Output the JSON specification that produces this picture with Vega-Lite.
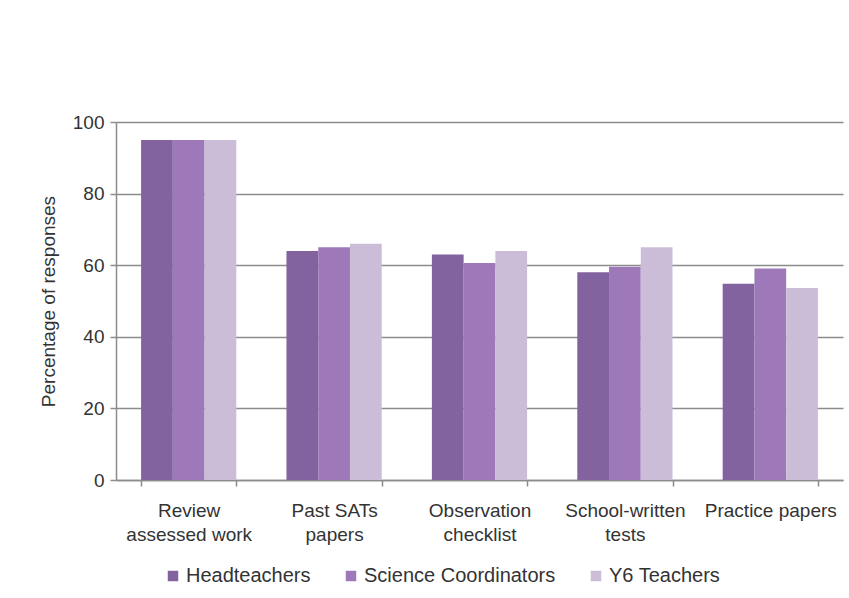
{
  "$schema": "https://vega.github.io/schema/vega-lite/v6.json",
  "width": 727,
  "height": 358,
  "autosize": {"type": "none"},
  "padding": {"left": 116, "top": 122, "right": 6, "bottom": 118},
  "background": "white",
  "config": {
    "view": {"stroke": null},
    "font": "Liberation Sans",
    "axis": {
      "labelFont": "Liberation Sans",
      "titleFont": "Liberation Sans",
      "labelColor": "#333333",
      "titleColor": "#333333",
      "labelFontSize": 19,
      "titleFontSize": 19,
      "titleFontWeight": "normal",
      "domainColor": "#8c8c8c",
      "domainWidth": 1.5,
      "tickColor": "#8c8c8c",
      "tickWidth": 1.5
    },
    "legend": {
      "labelFont": "Liberation Sans",
      "labelColor": "#333333",
      "labelFontSize": 20,
      "labelLimit": 0
    }
  },
  "data": {
    "values": [
      {"method": "Review assessed work", "group": "Headteachers", "pct": 95},
      {"method": "Review assessed work", "group": "Science Coordinators", "pct": 95},
      {"method": "Review assessed work", "group": "Y6 Teachers", "pct": 95},
      {"method": "Past SATs papers", "group": "Headteachers", "pct": 64},
      {"method": "Past SATs papers", "group": "Science Coordinators", "pct": 65},
      {"method": "Past SATs papers", "group": "Y6 Teachers", "pct": 66},
      {"method": "Observation checklist", "group": "Headteachers", "pct": 63},
      {"method": "Observation checklist", "group": "Science Coordinators", "pct": 60.6},
      {"method": "Observation checklist", "group": "Y6 Teachers", "pct": 64},
      {"method": "School-written tests", "group": "Headteachers", "pct": 58},
      {"method": "School-written tests", "group": "Science Coordinators", "pct": 59.6},
      {"method": "School-written tests", "group": "Y6 Teachers", "pct": 65},
      {"method": "Practice papers", "group": "Headteachers", "pct": 54.8},
      {"method": "Practice papers", "group": "Science Coordinators", "pct": 59.1},
      {"method": "Practice papers", "group": "Y6 Teachers", "pct": 53.6}
    ]
  },
  "mark": {"type": "bar"},
  "encoding": {
    "x": {
      "field": "method",
      "type": "nominal",
      "sort": ["Review assessed work", "Past SATs papers", "Observation checklist", "School-written tests", "Practice papers"],
      "scale": {"paddingInner": 0.345, "paddingOuter": 0.1725},
      "axis": {
        "title": null,
        "labelAngle": 0,
        "tickBand": "extent",
        "tickSize": 6,
        "labelPadding": 15,
        "labelLineHeight": 24,
        "labelBaseline": "top",
        "labelExpr": "datum.label == 'Review assessed work' ? ['Review', 'assessed work'] : datum.label == 'Past SATs papers' ? ['Past SATs', 'papers'] : datum.label == 'Observation checklist' ? ['Observation', 'checklist'] : datum.label == 'School-written tests' ? ['School-written', 'tests'] : datum.label"
      }
    },
    "xOffset": {
      "field": "group",
      "sort": ["Headteachers", "Science Coordinators", "Y6 Teachers"],
      "scale": {"paddingInner": 0, "paddingOuter": 0}
    },
    "y": {
      "field": "pct",
      "type": "quantitative",
      "scale": {"domain": [0, 100], "nice": false},
      "axis": {
        "title": "Percentage of responses",
        "values": [0, 20, 40, 60, 80, 100],
        "tickSize": 6,
        "labelPadding": 6,
        "titlePadding": 14,
        "grid": true,
        "gridColor": "#8c8c8c",
        "gridWidth": 1.5
      }
    },
    "color": {
      "field": "group",
      "type": "nominal",
      "sort": ["Headteachers", "Science Coordinators", "Y6 Teachers"],
      "scale": {
        "domain": ["Headteachers", "Science Coordinators", "Y6 Teachers"],
        "range": ["#8263A0", "#9E79BA", "#CBBDD8"]
      },
      "legend": {
        "title": null,
        "orient": "none",
        "direction": "horizontal",
        "legendX": 47,
        "legendY": 444,
        "symbolType": "square",
        "symbolSize": 110,
        "symbolStrokeWidth": 0,
        "labelOffset": 3,
        "columnPadding": 30
      }
    }
  }
}
